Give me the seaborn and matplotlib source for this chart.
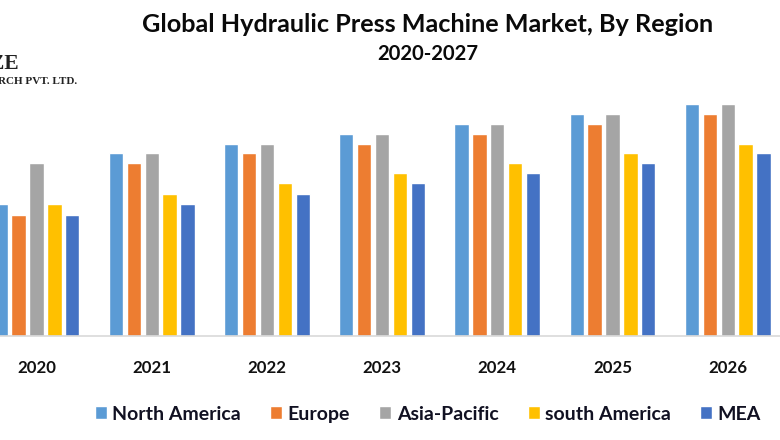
import matplotlib
matplotlib.use("Agg")
import matplotlib.pyplot as plt
import seaborn as sns
import pandas as pd

years = ["2020", "2021", "2022", "2023", "2024", "2025", "2026"]
regions = ["North America", "Europe", "Asia-Pacific", "south America", "MEA"]
north_america = [13.1, 18.2, 19.1, 20.1, 21.1, 22.1, 23.1]
europe = [12.1, 17.2, 18.2, 19.1, 20.1, 21.1, 22.1]
asia_pacific = [17.2, 18.2, 19.1, 20.1, 21.1, 22.1, 23.1]
south_america = [13.1, 14.1, 15.2, 16.2, 17.2, 18.2, 19.1]
mea = [12.1, 13.1, 14.1, 15.2, 16.2, 17.2, 18.2]
colors = ["#5B9BD5", "#ED7D31", "#A5A5A5", "#FFC000", "#4472C4"]

sns.set_theme(style="white")
plt.rcParams['font.family'] = ['Lato', 'DejaVu Sans']

df = pd.DataFrame({
    "year": years * 5,
    "region": [r for r in regions for _ in years],
    "value": north_america + europe + asia_pacific + south_america + mea,
})

fig = plt.figure(figsize=(7.8, 4.4), dpi=100)
ax = fig.add_axes([0, 104 / 440, 1, 246 / 440])
sns.barplot(data=df, x="year", y="value", hue="region", palette=colors,
            width=0.777, gap=0.2, saturation=1, errorbar=None, ax=ax)

ax.set_xlim(-36.5 / 115.2, (780 - 36.5) / 115.2)
ax.set_ylim(0, 24.5)
ax.set_xlabel("")
ax.set_ylabel("")
ax.set_yticks([])
ax.tick_params(axis="x", length=0, pad=17, labelsize=12.2)
for lab in ax.get_xticklabels():
    lab.set_fontweight("bold")
    lab.set_color("#111111")
sns.despine(ax=ax, left=True)
ax.spines["bottom"].set_color("#d9d9d9")
ax.spines["bottom"].set_linewidth(1.2)

handles, labels = ax.get_legend_handles_labels()
ax.legend(handles, labels, loc="center", bbox_to_anchor=(428 / 780, 26 / 440),
          bbox_transform=fig.transFigure, ncol=5, frameon=False,
          handlelength=0.62, handleheight=0.62, handletextpad=0.28, columnspacing=1.5,
          prop={"family": "Lato", "weight": "bold", "size": 14}, labelcolor="#111122")

fig.text(428 / 780, 1 - 24 / 440, "Global Hydraulic Press Machine Market, By Region",
         ha="center", va="center", fontsize=18.2, fontweight="bold", color="#0a0a0a")
fig.text(428 / 780, 1 - 54 / 440, "2020-2027",
         ha="center", va="center", fontsize=14.6, fontweight="bold", color="#0a0a0a")

# logo, cut off at the left edge of the picture like the original
fig.text(19 / 780, 1 - 64 / 440, "ZE", ha="right", va="center",
         family="Liberation Serif", fontsize=15.5, fontweight="bold", color="#222222")
fig.text(77 / 780, 1 - 81 / 440, "RCH PVT. LTD.", ha="right", va="center",
         family="Liberation Serif", fontsize=8, fontweight="bold", color="#222222")

fig.savefig("out.png", dpi=100)
